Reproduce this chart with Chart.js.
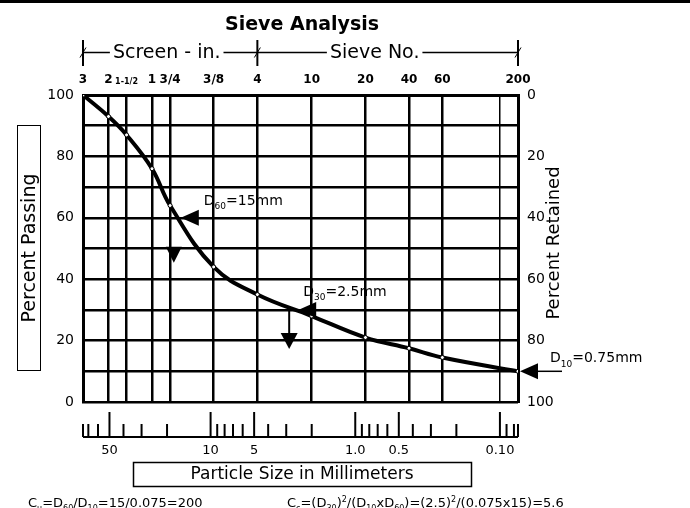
<!DOCTYPE html>
<html>
<head>
<meta charset="utf-8">
<title>Sieve Analysis</title>
<script src="https://cdn.jsdelivr.net/npm/chart.js@4.4.1/dist/chart.umd.min.js"></script>
<style>
    html, body { margin: 0; padding: 0; background: #fff; }
    #wrap { width: 690px; height: 508px; }
</style>
</head>
<body>
<div id="wrap"><canvas id="sieveChart" width="690" height="508"></canvas></div>
<script>
// --- data ---
// sieve openings (mm) with the labels printed above the grid
const sieveMm = [76.2, 50.8, 38.1, 25.4, 19.05, 9.525, 4.75, 2.0, 0.85, 0.425, 0.25, 0.1, 0.075];
const sieveLabels = ['3', '2', '1-1/2', '1', '3/4', '3/8', '4', '10', '20', '40', '60', '', '200'];

// grading curve: particle size (mm) vs percent passing
const gradingMm = [76.2, 50.8, 38.1, 25.4, 19.05, 9.525, 4.75, 2.0, 0.85, 0.425, 0.25, 0.075];
const percentPassing = [100, 93, 87, 76, 64, 44, 35, 28, 21, 17.5, 14.5, 10];

// axis ticks
const passingTicks = [0, 10, 20, 30, 40, 50, 60, 70, 80, 90, 100];
const retainedTicks = [0, 20, 40, 60, 80, 100];
const rulerMm = [50, 10, 5, 1, 0.5, 0.1];
const rulerLabels = ['50', '10', '5', '1.0', '0.5', '0.10'];

// D-values marked on the curve
const dMarks = [
    { passing: 60, sub: '60', text: '=15mm' },
    { passing: 30, sub: '30', text: '=2.5mm' },
    { passing: 10, sub: '10', text: '=0.75mm' }
];

const FONT = '"DejaVu Sans"';
Chart.defaults.font.family = FONT;
Chart.defaults.color = '#000';

// size at a given percent passing, interpolated in log space along the curve
function sizeAtPassing(p) {
    for (let i = 0; i < gradingMm.length - 1; i++) {
        const p0 = percentPassing[i], p1 = percentPassing[i + 1];
        if (p <= p0 && p >= p1) {
            const f = (p0 - p) / (p0 - p1);
            const l0 = Math.log10(gradingMm[i]), l1 = Math.log10(gradingMm[i + 1]);
            return Math.pow(10, l0 + f * (l1 - l0));
        }
    }
    return gradingMm[gradingMm.length - 1];
}

// text with sub (1) / superscript (2) pieces
function richText(ctx, x, y, parts, size) {
    ctx.textAlign = 'left';
    ctx.textBaseline = 'alphabetic';
    parts.forEach(([s, kind]) => {
        const fs = kind ? Math.round(size * 0.62) : size;
        const dy = kind === 1 ? size * 0.3 : (kind === 2 ? -size * 0.42 : 0);
        ctx.font = fs + 'px ' + FONT;
        ctx.fillText(s, x, y + dy);
        x += ctx.measureText(s).width;
    });
    return x;
}

function triLeft(ctx, tx, ty, len, half) {
    ctx.beginPath();
    ctx.moveTo(tx, ty);
    ctx.lineTo(tx + len, ty - half);
    ctx.lineTo(tx + len, ty + half);
    ctx.closePath();
    ctx.fill();
}

function triDown(ctx, cx, top, len, half) {
    ctx.beginPath();
    ctx.moveTo(cx - half, top);
    ctx.lineTo(cx + half, top);
    ctx.lineTo(cx, top + len);
    ctx.closePath();
    ctx.fill();
}

const sieveFigure = {
    id: 'sieveFigure',
    afterDraw(chart) {
        const { ctx, chartArea: a } = chart;
        const x = chart.scales.x, y = chart.scales.y;
        ctx.save();
        ctx.fillStyle = '#000';
        ctx.strokeStyle = '#000';

        // scan edge at the very top
        ctx.fillRect(0, 0, 690, 3);

        // title
        ctx.font = 'bold 19px ' + FONT;
        ctx.textAlign = 'center';
        ctx.textBaseline = 'alphabetic';
        ctx.fillText('Sieve Analysis', 302, 30);

        // Screen / Sieve No. brackets
        const hy = 52.5;
        const bx = [x.getPixelForValue(76.2), x.getPixelForValue(4.75), x.getPixelForValue(0.075)];
        ctx.lineWidth = 2;
        bx.forEach(px => {
            ctx.beginPath();
            ctx.moveTo(px, 40); ctx.lineTo(px, 66);
            ctx.stroke();
            ctx.lineWidth = 1;
            ctx.beginPath();
            ctx.moveTo(px - 3, hy + 5); ctx.lineTo(px + 3, hy - 5);
            ctx.stroke();
            ctx.lineWidth = 2;
        });
        ctx.font = '19px ' + FONT;
        ctx.textBaseline = 'middle';
        [['Screen - in.', bx[0], bx[1], 0.48], ['Sieve No.', bx[1], bx[2], 0.45]].forEach(([t, l, r, f]) => {
            const w = ctx.measureText(t).width;
            const cx = l + f * (r - l);
            ctx.fillText(t, cx, hy + 1);
            ctx.lineWidth = 1.5;
            ctx.beginPath();
            ctx.moveTo(l, hy); ctx.lineTo(cx - w / 2 - 3, hy);
            ctx.moveTo(cx + w / 2 + 3, hy); ctx.lineTo(r, hy);
            ctx.stroke();
        });

        // axis titles
        ctx.lineWidth = 1;
        ctx.strokeRect(17.5, 125.5, 23, 245);
        ctx.save();
        ctx.translate(29, 248);
        ctx.rotate(-Math.PI / 2);
        ctx.font = '19px ' + FONT;
        ctx.textAlign = 'center';
        ctx.fillText('Percent Passing', 0, 1);
        ctx.restore();

        ctx.save();
        ctx.translate(554, 243);
        ctx.rotate(-Math.PI / 2);
        ctx.font = '18px ' + FONT;
        ctx.textAlign = 'center';
        ctx.fillText('Percent Retained', 0, 0);
        ctx.restore();

        // millimetre ruler under the grid
        const ry = 437;
        ctx.lineWidth = 2;
        ctx.beginPath();
        ctx.moveTo(a.left, ry); ctx.lineTo(a.right, ry);
        ctx.stroke();
        const minor = [];
        for (let e = -2; e <= 1; e++) {
            for (let k = 1; k <= 9; k++) {
                const v = k * Math.pow(10, e);
                if (v > 0.075 && v < 76.2) minor.push(v);
            }
        }
        minor.push(0.075, 76.2);
        minor.forEach(v => {
            const px = x.getPixelForValue(v);
            const tall = rulerMm.some(m => Math.abs(m - v) < 1e-9);
            ctx.beginPath();
            ctx.moveTo(px, ry); ctx.lineTo(px, ry - (tall ? 25 : 13));
            ctx.stroke();
        });
        ctx.font = '13px ' + FONT;
        ctx.textAlign = 'center';
        ctx.textBaseline = 'middle';
        rulerMm.forEach((v, i) => ctx.fillText(rulerLabels[i], x.getPixelForValue(v), 451));

        ctx.lineWidth = 1.5;
        ctx.strokeRect(133.5, 462.5, 338, 24);
        ctx.font = '17px ' + FONT;
        ctx.fillText('Particle Size in Millimeters', 302, 475);

        // D markers
        dMarks.forEach(d => {
            const tx = x.getPixelForValue(sizeAtPassing(d.passing)) + 2;
            const ty = y.getPixelForValue(d.passing);
            triLeft(ctx, tx, ty, 18, 8);
            if (d.passing === 60) {
                triDown(ctx, tx - 7, ty + 29, 16, 8);
                richText(ctx, tx + 23, ty - 13, [['D', 0], [d.sub, 1], [d.text, 0]], 14);
            } else if (d.passing === 30) {
                ctx.lineWidth = 2;
                ctx.beginPath();
                ctx.moveTo(tx - 9, ty); ctx.lineTo(tx - 9, ty + 24);
                ctx.stroke();
                triDown(ctx, tx - 9, ty + 23, 16, 8.5);
                richText(ctx, tx + 5, ty - 14, [['D', 0], [d.sub, 1], [d.text, 0]], 14);
            } else {
                ctx.lineWidth = 1.5;
                ctx.beginPath();
                ctx.moveTo(tx + 18, ty); ctx.lineTo(tx + 42, ty);
                ctx.stroke();
                richText(ctx, tx + 30, ty - 9, [['D', 0], [d.sub, 1], [d.text, 0]], 14);
            }
        });

        // coefficients
        richText(ctx, 28, 507, [['C', 0], ['u', 1], ['=D', 0], ['60', 1], ['/D', 0], ['10', 1], ['=15/0.075=200', 0]], 13);
        richText(ctx, 287, 507, [['C', 0], ['c', 1], ['=(D', 0], ['30', 1], [')', 0], ['2', 2], ['/(D', 0], ['10', 1],
            ['xD', 0], ['60', 1], [')=(2.5)', 0], ['2', 2], ['/(0.075x15)=5.6', 0]], 13);

        ctx.restore();
    }
};

new Chart(document.getElementById('sieveChart'), {
    type: 'scatter',
    data: {
        datasets: [{
            data: gradingMm.map((v, i) => ({ x: v, y: percentPassing[i] })),
            showLine: true,
            tension: 0.4,
            borderColor: '#000',
            borderWidth: 4,
            pointRadius: 2,
            pointBackgroundColor: '#fff',
            pointBorderColor: '#000',
            pointBorderWidth: 1,
            xAxisID: 'x',
            yAxisID: 'y'
        }]
    },
    options: {
        responsive: false,
        animation: false,
        devicePixelRatio: 1,
        layout: { padding: { top: 0, left: 0, right: 0, bottom: 106 } },
        plugins: { legend: { display: false }, tooltip: { enabled: false } },
        scales: {
            x: {
                type: 'logarithmic',
                position: 'top',
                reverse: true,
                min: 0.075,
                max: 76.2,
                afterBuildTicks: s => { s.ticks = sieveMm.map(v => ({ value: v })); },
                afterFit: s => { s.height = 95; },
                grid: {
                    color: '#000',
                    lineWidth: c => (c.tick && c.tick.value === 0.1 ? 1.5 : 2.5),
                    drawTicks: false
                },
                border: { color: '#000', width: 3 },
                ticks: {
                    autoSkip: false,
                    maxRotation: 0,
                    padding: 8,
                    color: '#000',
                    font: c => (c.index === 2 ? { size: 8, weight: 'bold' } : { size: 12, weight: 'bold' }),
                    callback: (v, i) => sieveLabels[i]
                }
            },
            y: {
                position: 'left',
                min: 0,
                max: 100,
                afterBuildTicks: s => { s.ticks = passingTicks.map(v => ({ value: v })); },
                afterFit: s => { s.width = 83; },
                grid: { color: '#000', lineWidth: 2.5, drawTicks: false },
                border: { color: '#000', width: 3 },
                ticks: {
                    padding: 9,
                    color: '#000',
                    font: { size: 14 },
                    callback: v => (v % 20 === 0 ? String(v) : '')
                }
            },
            y2: {
                position: 'right',
                min: 0,
                max: 100,
                reverse: true,
                afterBuildTicks: s => { s.ticks = retainedTicks.map(v => ({ value: v })); },
                afterFit: s => { s.width = 172; },
                grid: { drawOnChartArea: false, drawTicks: false },
                border: { color: '#000', width: 3 },
                ticks: { padding: 9, color: '#000', font: { size: 14 } }
            }
        }
    },
    plugins: [sieveFigure]
});
</script>
</body>
</html>
